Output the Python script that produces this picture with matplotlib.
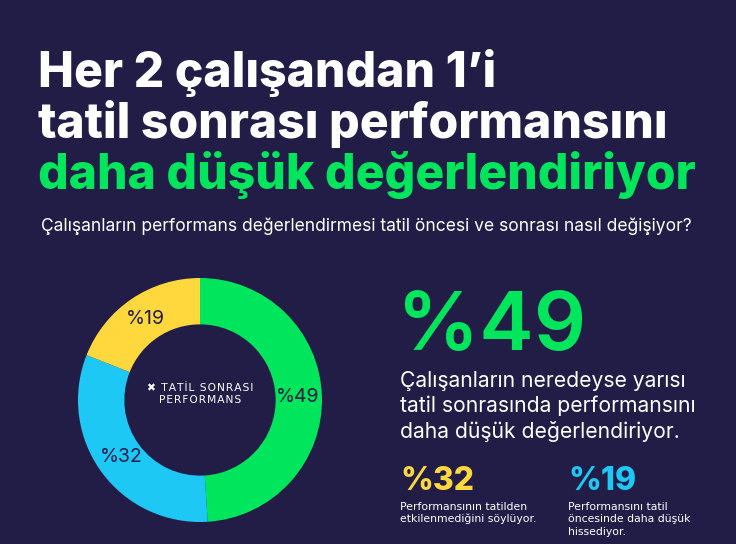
import matplotlib.pyplot as plt

# colours
bg = '#221d47'
green = '#00e65c'
blue = '#1ec8f5'
yellow = '#ffd83d'
navy = '#221d47'

# data
slices = [49, 32, 19]
slice_colors = [green, blue, yellow]
headline = ['Her 2 çalışandan 1’i', 'tatil sonrası performansını', 'daha düşük değerlendiriyor']
subtitle = 'Çalışanların performans değerlendirmesi tatil öncesi ve sonrası nasıl değişiyor?'
big_stat = slices[0]
big_text = ['Çalışanların neredeyse yarısı', 'tatil sonrasında performansını', 'daha düşük değerlendiriyor.']
side_stats = [32, 19]
side_colors = [yellow, blue]
side_texts = [['Performansının tatilden', 'etkilenmediğini söylüyor.'],
              ['Performansını tatil', 'öncesinde daha düşük', 'hissediyor.']]
center_label = ['✖ TATİL SONRASI', 'PERFORMANS']

W, H = 736, 544
fig = plt.figure(figsize=(W / 100, H / 100), dpi=100, facecolor=bg)


def px(x, y):
    return x / W, 1 - y / H


def spaced(s):
    return '\u200a'.join(s)


head_font = 'Inter'
body_font = 'DejaVu Sans'

# headline
for i, line in enumerate(headline):
    fig.text(*px(38, 87 + i * 51), line, color=green if i == 2 else 'white',
             fontsize=34.6, fontweight='heavy', family=head_font, va='baseline')

fig.text(*px(41, 231), subtitle, color='white', fontsize=12.6,
         family=head_font, va='baseline')

# donut
ax = fig.add_axes([(200 - 122) / W, (H - 522) / H, 244 / W, 244 / H])
ax.set_facecolor(bg)
wedges, _, pct = ax.pie(slices, colors=slice_colors, startangle=90, counterclock=False,
                        radius=1, wedgeprops=dict(width=0.38, linewidth=0),
                        autopct=lambda p: f'%{p:.0f}', pctdistance=0.8,
                        textprops=dict(color=navy, fontsize=14, family=head_font))
ax.set_xlim(-1, 1)
ax.set_ylim(-1, 1)
ax.set_aspect('equal')
ax.axis('off')
ax.text(0, 0.05, '\n'.join(spaced(s) for s in center_label), ha='center', va='center',
        color='white', fontsize=7.7, family=body_font, linespacing=1.3)

# right side
fig.text(*px(397, 350), f'%{big_stat}', color=green, fontsize=59,
         family=head_font, fontweight='semibold', va='baseline')
for i, line in enumerate(big_text):
    fig.text(*px(400, 387 + i * 25.5), line, color='white', fontsize=15.2,
             family=head_font, va='baseline')

for j, (val, col, lines) in enumerate(zip(side_stats, side_colors, side_texts)):
    x0 = 400 + j * 168
    fig.text(*px(x0, 490), f'%{val}', color=col, fontsize=23, fontweight='heavy',
             family=head_font, va='baseline')
    for i, line in enumerate(lines):
        fig.text(*px(x0, 510 + i * 12.5), line, color='white', fontsize=7.8,
                 family=body_font, va='baseline')

fig.savefig('out.png', dpi=100, facecolor=bg)
